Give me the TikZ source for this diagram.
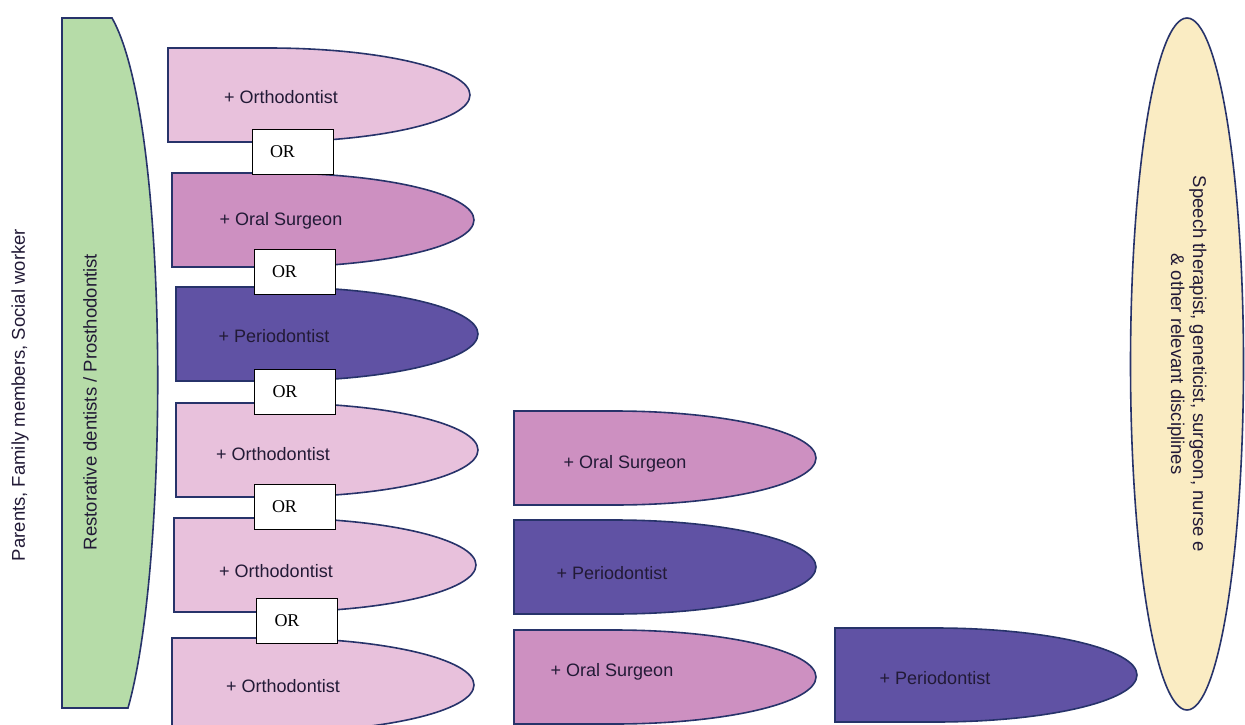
\documentclass[tikz,border=0pt]{standalone}
\usepackage{fontspec}
\setmainfont{Liberation Sans}
\newfontfamily\orfont{Liberation Serif}
\usetikzlibrary{shapes.geometric}

\definecolor{pinklight}{HTML}{E8C1DC}
\definecolor{pinkmid}{HTML}{CD90C1}
\definecolor{periopurple}{HTML}{6052A4}
\definecolor{restgreen}{HTML}{B6DCA8}
\definecolor{othercream}{HTML}{FAECC3}
\definecolor{edgeblue}{HTML}{27336A}
\definecolor{textdark}{HTML}{221A36}

\tikzstyle{tongueline} = [draw=edgeblue, line width=1.6pt]
\tikzstyle{tonguetext} = [text=textdark, font=\fontsize{18}{22}\selectfont]
\tikzstyle{orbox} = [rectangle, draw=black, line width=0.9pt, fill=white, minimum height=45pt, text width=45pt, inner xsep=18pt, align=left, font=\orfont\fontsize{18}{22}\selectfont]
\tikzstyle{sidetext} = [text=textdark, font=\fontsize{18.5}{22}\selectfont]

% name, left x, top y, fill, text position, text
\newcommand{\tongue}[6]{%
  \draw [tongueline, fill=#4] (#2,#3) -- ++(100,0) arc [start angle=90, end angle=-90, x radius=202pt, y radius=47pt] -- ++(-100,0) -- cycle;
  \node (#1) [tonguetext] at (#5) {#6};
}

\begin{document}
\begin{tikzpicture}[x=1pt, y=-1pt]
			\useasboundingbox (0,0) rectangle (1245,725);

			% restorative column
			\draw [tongueline, fill=restgreen] (62,18) -- (112,18) .. controls (170,120) and (170,560) .. (128,708) -- (62,708) -- cycle;
			\node (rest) [sidetext, rotate=90] at (90,402) {Restorative dentists / Prosthodontist};
			\node (family) [sidetext, rotate=90] at (20,395) {Parents, Family members, Social worker};

			% first column
			\tongue{ortho1}{168}{48}{pinklight}{281,97}{+ Orthodontist}
			\tongue{oral1}{172}{173}{pinkmid}{281,221}{+ Oral Surgeon}
			\tongue{perio1}{176}{287}{periopurple}{274,336}{+ Periodontist}
			\tongue{ortho2}{176}{403}{pinklight}{273,454}{+ Orthodontist}
			\tongue{ortho3}{174}{518}{pinklight}{276,571}{+ Orthodontist}
			\tongue{ortho4}{172}{638}{pinklight}{283,686}{+ Orthodontist}

			% second and third column
			\tongue{oral2}{514}{411}{pinkmid}{625,464}{+ Oral Surgeon}
			\tongue{perio2}{514}{520}{periopurple}{612,573}{+ Periodontist}
			\tongue{oral3}{514}{630}{pinkmid}{612,672}{+ Oral Surgeon}
			\tongue{perio3}{835}{628}{periopurple}{935,678}{+ Periodontist}

			% or boxes
			\node (or1) [orbox] at (292.5,151.5) {OR};
			\node (or2) [orbox] at (294.5,272) {OR};
			\node (or3) [orbox] at (295,392) {OR};
			\node (or4) [orbox] at (294.5,507) {OR};
			\node (or5) [orbox] at (297,620.5) {OR};

			% other disciplines
			\node (others) [ellipse, tongueline, fill=othercream, rotate=-90, minimum width=692pt, minimum height=113pt, align=center, sidetext] at (1187,364) {Speech therapist, geneticist, surgeon, nurse e\\ \& other relevant disciplines};
		\end{tikzpicture}
\end{document}
